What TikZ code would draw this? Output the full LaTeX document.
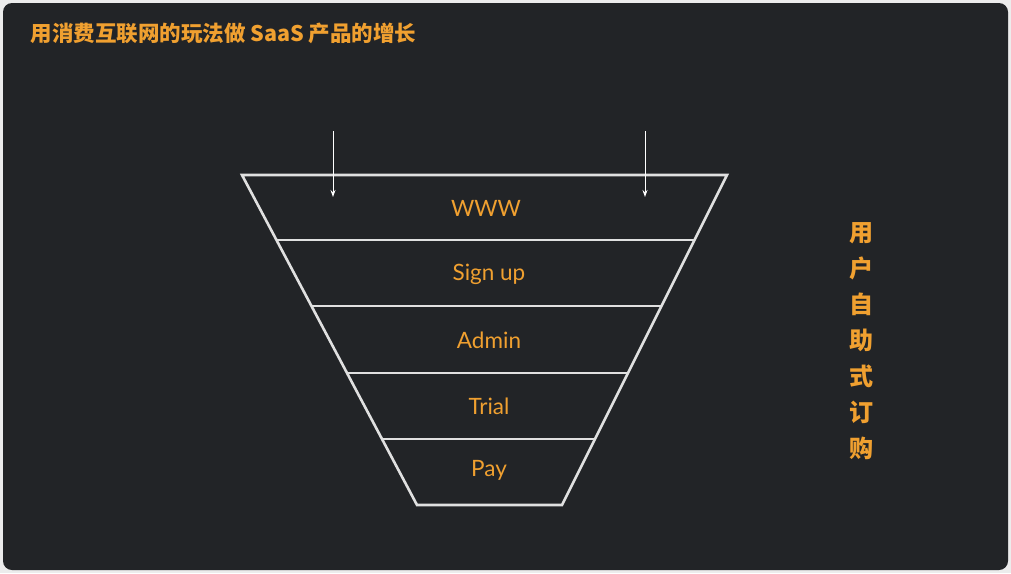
\documentclass[tikz,border=0pt]{standalone}
\usepackage{fontspec}
\usetikzlibrary{calc,arrows.meta}
\setmainfont{Lato}
\newfontfamily\cjk{Noto Sans CJK SC}
\definecolor{bg}{HTML}{222427}
\definecolor{org}{HTML}{F0A030}
\definecolor{frame}{HTML}{ECECEC}
\begin{document}
\begin{tikzpicture}[x=1pt,y=-1pt,
  fl/.style={draw=white!88!black,line width=2.6pt},
  lbl/.style={text=org,font=\fontsize{22.5}{24}\selectfont},
  arr/.style={draw=white,line width=1pt,-{Stealth[length=7pt,width=5pt]}}]
\fill[frame] (0,0) rectangle (1011,573);
\useasboundingbox (0,0) rectangle (1011,573);
\fill[bg,rounded corners=9pt] (3,3) rectangle (1008,570);
\node[anchor=west,text=org,font=\cjk\bfseries\fontsize{21.5}{24}\selectfont] (title) at (27,33) {用消费互联网的玩法做 SaaS 产品的增长};
\coordinate (tl) at (242,175); \coordinate (tr) at (727,175);
\coordinate (bl) at (417,505); \coordinate (br) at (562,505);
\draw[fl] (tl) -- (tr) -- (br) -- (bl) -- cycle;
\foreach \y in {240,306,373,439}{
  \draw[fl] ($(tl)!{(\y-175)/330}!(bl)$) -- ($(tr)!{(\y-175)/330}!(br)$);
}
\node[lbl] (www) at (486,208) {WWW};
\node[lbl] (sign) at (489,274) {Sign up};
\node[lbl] (admin) at (489,340) {Admin};
\node[lbl] (trial) at (489,406) {Trial};
\node[lbl] (pay) at (489,470) {Pay};
\coordinate (a1) at (333,131); \coordinate (a2) at (333,197);
\coordinate (b1) at (645,131); \coordinate (b2) at (645,197);
\draw[arr] (a1) -- (a2);
\draw[arr] (b1) -- (b2);
\node[text=org,font=\cjk\bfseries\fontsize{24}{36}\selectfont,align=center] (side) at (861,341) {用\\户\\自\\助\\式\\订\\购};
\end{tikzpicture}
\end{document}
